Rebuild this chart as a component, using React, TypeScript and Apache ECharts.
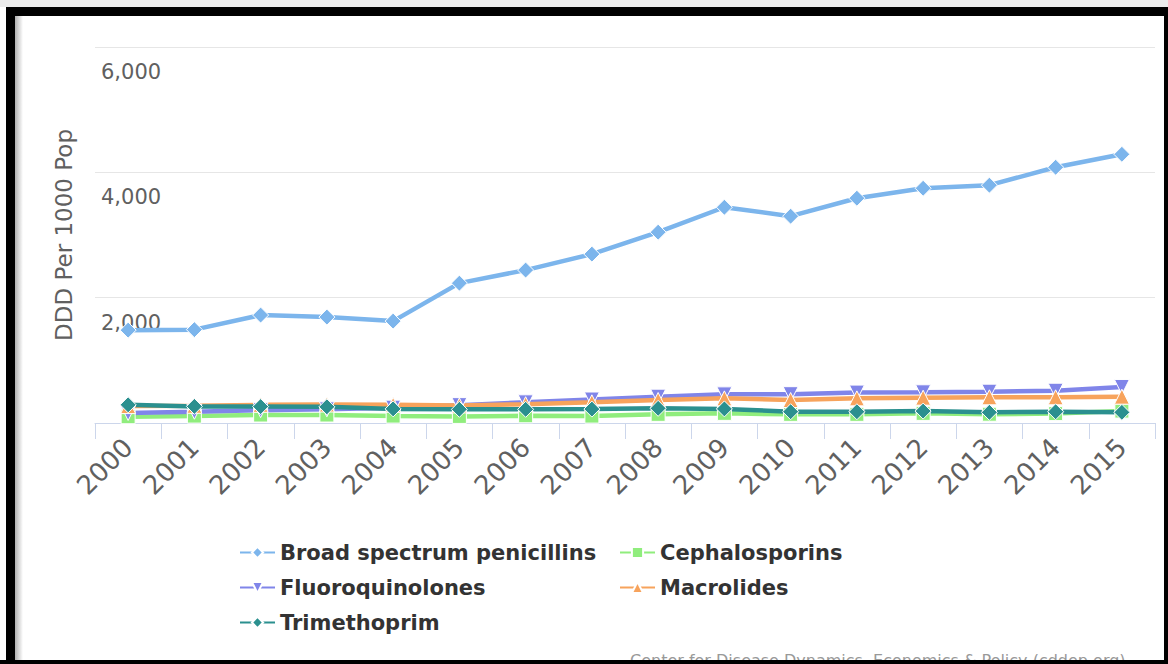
import React, { useEffect, useRef } from "react";
import * as echarts from "echarts";

const years = ["2000","2001","2002","2003","2004","2005","2006","2007","2008","2009","2010","2011","2012","2013","2014","2015"];
const broadSpectrum = [1482, 1490, 1722, 1690, 1626, 2232, 2440, 2695, 3045, 3443, 3300, 3587, 3746, 3795, 4081, 4288];
const cephalosporins = [100, 110, 127, 127, 110, 105, 115, 110, 138, 154, 138, 138, 154, 140, 150, 190];
const fluoroquinolones = [160, 180, 205, 218, 245, 285, 330, 375, 420, 457, 460, 485, 490, 500, 515, 575];
const macrolides = [270, 275, 290, 295, 290, 280, 300, 330, 367, 393, 367, 393, 404, 410, 410, 420];
const trimethoprim = [290, 265, 262, 258, 225, 218, 218, 222, 234, 225, 180, 180, 190, 170, 180, 170];
const yTicks = [0, 2000, 4000, 6000];

const FONT = "DejaVu Sans";

export default function App() {
  const ref = useRef<HTMLDivElement>(null);
  useEffect(() => {
    document.body.style.margin = "0";
    const chart = echarts.init(ref.current!, null, { renderer: "svg" });
    const mk = (name: string, data: number[], color: string, symbol: string, size: number | number[]) => ({
      name,
      type: "line",
      data,
      symbol,
      symbolSize: size,
      showSymbol: true,
      lineStyle: { width: 4.5, color },
      itemStyle: { color, borderColor: "#fff", borderWidth: 1 },
    });
    const legendText = { fontSize: 21, lineHeight: 21, fontWeight: "bold", color: "#333333", fontFamily: FONT };
    chart.setOption({
      animation: false,
      backgroundColor: "#fff",
      textStyle: { fontFamily: FONT },
      grid: { left: 95, right: 13, top: 47, bottom: 241, containLabel: false },
      xAxis: {
        type: "category",
        data: years,
        boundaryGap: true,
        axisLine: { show: true, lineStyle: { color: "#ccd6eb", width: 1 } },
        axisTick: { show: true, length: 16, interval: 0, lineStyle: { color: "#ccd6eb" } },
        axisLabel: { rotate: 45, interval: 0, margin: 20, fontSize: 26, color: "#606060", fontFamily: FONT },
        splitLine: { show: false },
      },
      yAxis: {
        type: "value",
        min: yTicks[0],
        max: yTicks[yTicks.length - 1],
        interval: 2000,
        name: "DDD Per 1000 Pop",
        nameLocation: "middle",
        nameGap: 20,
        nameRotate: 90,
        nameTextStyle: { fontSize: 23, color: "#606060", fontFamily: FONT },
        axisLine: { show: false },
        axisTick: { show: false },
        axisLabel: {
          inside: true,
          margin: 6,
          fontSize: 21,
          color: "#606060",
          fontFamily: FONT,
          verticalAlign: "top",
          lineHeight: 50,
          formatter: (v: number) => (v === 0 ? "" : v.toLocaleString("en-US")),
        },
        splitLine: { show: true, lineStyle: { color: "#e6e6e6", width: 1 } },
      },
      legend: [
        {
          orient: "vertical",
          left: 239,
          top: 542,
          padding: 0,
          itemWidth: 35,
          itemHeight: 14,
          itemGap: 14,
          data: ["Broad spectrum penicillins", "Fluoroquinolones", "Trimethoprim"],
          textStyle: legendText,
        },
        {
          orient: "vertical",
          left: 619,
          top: 542,
          padding: 0,
          itemWidth: 35,
          itemHeight: 14,
          itemGap: 14,
          data: ["Cephalosporins", "Macrolides"],
          textStyle: legendText,
        },
      ],
      series: [
        mk("Broad spectrum penicillins", broadSpectrum, "#7cb5ec", "diamond", 16),
        mk("Cephalosporins", cephalosporins, "#90ed7d", "rect", 14),
        mk("Fluoroquinolones", fluoroquinolones, "#8085e9", "path://M0,0 L10,0 L5,9 Z", 15),
        mk("Macrolides", macrolides, "#f7a35c", "triangle", 15),
        mk("Trimethoprim", trimethoprim, "#2b908f", "diamond", 16),
      ],
      graphic: [
        { type: "text", left: 630, top: 652, z: 10, style: { text: "Center for Disease Dynamics, Economics & Policy (cddep.org)", fontSize: 16, fill: "#999999", fontFamily: FONT } },
        { type: "rect", shape: { x: 0, y: 0, width: 1168, height: 7 }, z: 20, style: { fill: "#ebebeb" } },
        { type: "rect", shape: { x: 6, y: 7, width: 1162, height: 9 }, z: 20, style: { fill: "#000" } },
        { type: "rect", shape: { x: 6, y: 7, width: 9, height: 657 }, z: 20, style: { fill: "#000" } },
        {
          type: "rect", shape: { x: 15, y: 16, width: 8, height: 644 }, z: 19,
          style: { fill: new echarts.graphic.LinearGradient(0, 0, 1, 0, [{ offset: 0, color: "#b0b0b0" }, { offset: 1, color: "#ffffff" }]) },
        },
        { type: "rect", shape: { x: 1164, y: 7, width: 4, height: 657 }, z: 20, style: { fill: "#000" } },
        { type: "rect", shape: { x: 0, y: 660, width: 1168, height: 4 }, z: 20, style: { fill: "#000" } },
      ],
    });
    return () => chart.dispose();
  }, []);
  return <div ref={ref} style={{ position: "fixed", left: 0, top: 0, width: 1168, height: 664 }} />;
}
